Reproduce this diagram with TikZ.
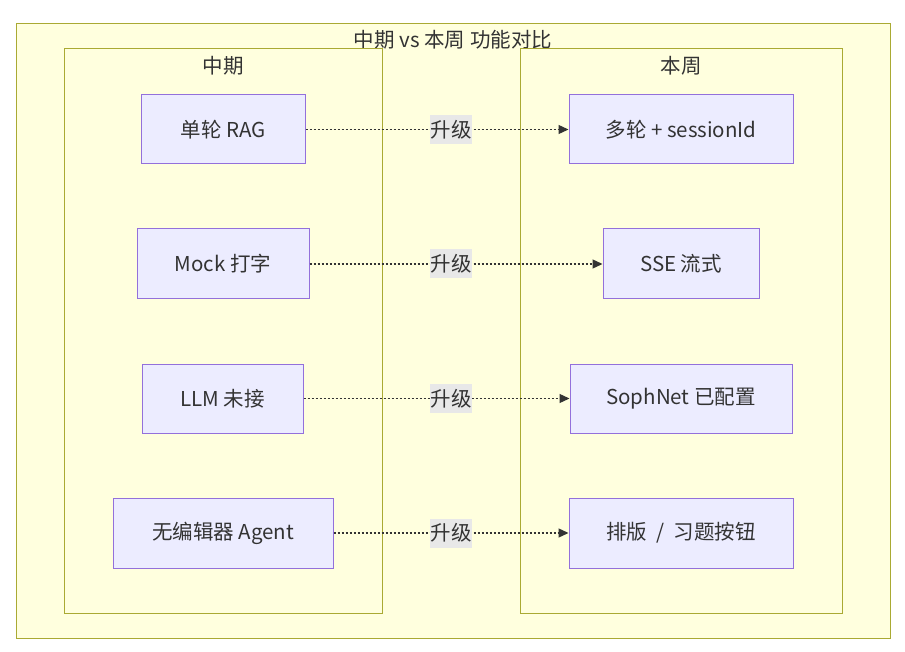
\documentclass[tikz,border=0pt]{standalone}
\usepackage{fontspec}
\setmainfont{Noto Sans CJK SC}
\usetikzlibrary{arrows.meta}
\definecolor{clfill}{HTML}{FFFFDE}
\definecolor{clline}{HTML}{AAAA33}
\definecolor{ndfill}{HTML}{ECECFF}
\definecolor{ndline}{HTML}{9370DB}
\definecolor{txt}{HTML}{333333}
\definecolor{lblbg}{HTML}{E8E8E8}
\begin{document}
\begin{tikzpicture}[x=1pt,y=-1pt,
  cluster/.style={draw=clline,fill=clfill,line width=1pt},
  box/.style={draw=ndline,fill=ndfill,line width=1pt,text=txt,font=\fontsize{20.5}{24}\selectfont,inner sep=0pt},
  ttl/.style={text=txt,font=\fontsize{20.5}{24}\selectfont,inner sep=0pt},
  lbl/.style={fill=lblbg,text=txt,font=\fontsize{20.5}{24}\selectfont,inner xsep=0.5pt,inner ysep=0pt,minimum height=29pt},
  conn/.style={draw=txt,line width=1.3pt,dash pattern=on 2pt off 2pt,-{Triangle[length=10pt,width=9pt]}}]
\useasboundingbox (0,0) rectangle (905,652);
\draw[cluster] (16,24) rectangle (890,638);
\node[ttl] (title) at (453,40) {中期 vs 本周 功能对比};
\draw[cluster] (64,49) rectangle (382,613);
\draw[cluster] (520,49) rectangle (842,613);
\node[ttl] (lt) at (223,66) {中期};
\node[ttl] (rt) at (681,66) {本周};
\node[box,minimum width=164pt,minimum height=69pt] (l1) at (223,129.5) {单轮 RAG};
\node[box,minimum width=172pt,minimum height=70pt] (l2) at (223,264) {Mock 打字};
\node[box,minimum width=161pt,minimum height=69pt] (l3) at (222.5,398.5) {LLM 未接};
\node[box,minimum width=220pt,minimum height=70pt] (l4) at (223,533) {无编辑器 Agent};
\node[box,minimum width=224pt,minimum height=69pt] (r1) at (681,129.5) {多轮 + sessionId};
\node[box,minimum width=156pt,minimum height=70pt] (r2) at (681,264) {SSE 流式};
\node[box,minimum width=222pt,minimum height=69pt] (r3) at (681,398.5) {SophNet 已配置};
\node[box,minimum width=224pt,minimum height=70pt] (r4) at (681,533) {排版 \ / \ 习题按钮};
\draw[conn] (l1.east) -- (r1.west);
\draw[conn] (l2.east) -- (r2.west);
\draw[conn] (l3.east) -- (r3.west);
\draw[conn] (l4.east) -- (r4.west);
\node[lbl] (u1) at (451,129.5) {升级};
\node[lbl] (u2) at (451,264) {升级};
\node[lbl] (u3) at (451,398.5) {升级};
\node[lbl] (u4) at (451,533) {升级};
\end{tikzpicture}
\end{document}
